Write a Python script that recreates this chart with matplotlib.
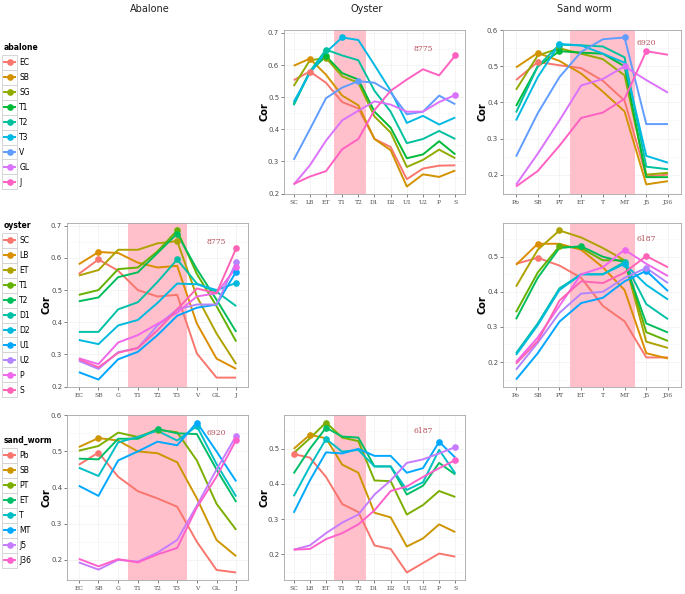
import matplotlib
matplotlib.use('Agg')
import matplotlib.pyplot as plt
from matplotlib.lines import Line2D
from matplotlib.patches import Rectangle
from matplotlib.ticker import MultipleLocator

# x-axis stages of each species
abalone_stages = ['EC', 'SB', 'G', 'T1', 'T2', 'T3', 'V', 'GL', 'J']
oyster_stages = ['SC', 'LB', 'ET', 'T1', 'T2', 'D1', 'D2', 'U1', 'U2', 'P', 'S']
worm_stages = ['Pb', 'SB', 'PT', 'ET', 'T', 'MT', 'J5', 'J36']

# legend labels (series)
abalone_labels = ['EC', 'SB', 'SG', 'T1', 'T2', 'T3', 'V', 'GL', 'J']
oyster_labels = ['SC', 'LB', 'ET', 'T1', 'T2', 'D1', 'D2', 'U1', 'U2', 'P', 'S']
worm_labels = ['Pb', 'SB', 'PT', 'ET', 'T', 'MT', 'J5', 'J36']

abalone_colors = ['#F8766D', '#D39200', '#93AA00', '#00BA38', '#00C19F',
                  '#00B9E3', '#619CFF', '#DB72FB', '#FF61C3']
oyster_colors = ['#F8766D', '#DB8E00', '#AEA200', '#64B200', '#00BD5C', '#00C1A7',
                 '#00BADE', '#00A6FF', '#B385FF', '#EF67EB', '#FF63B6']
worm_colors = ['#F8766D', '#CD9600', '#7CAE00', '#00BE67', '#00BFC4',
               '#00A9FF', '#C77CFF', '#FF61CC']

# abalone series against oyster stages
abalone_on_oyster = [
    [0.553, 0.580, 0.545, 0.485, 0.465, 0.370, 0.345, 0.245, 0.278, 0.287, 0.288],
    [0.598, 0.620, 0.570, 0.505, 0.475, 0.370, 0.335, 0.222, 0.260, 0.252, 0.272],
    [0.535, 0.615, 0.622, 0.565, 0.545, 0.440, 0.390, 0.283, 0.305, 0.337, 0.310],
    [0.478, 0.580, 0.628, 0.575, 0.555, 0.455, 0.405, 0.310, 0.322, 0.363, 0.322],
    [0.475, 0.580, 0.648, 0.630, 0.615, 0.520, 0.455, 0.357, 0.370, 0.395, 0.370],
    [0.485, 0.575, 0.640, 0.686, 0.678, 0.600, 0.520, 0.420, 0.442, 0.415, 0.437],
    [0.305, 0.400, 0.497, 0.530, 0.550, 0.545, 0.515, 0.447, 0.455, 0.505, 0.478],
    [0.228, 0.288, 0.365, 0.428, 0.458, 0.487, 0.477, 0.455, 0.455, 0.485, 0.507],
    [0.230, 0.253, 0.270, 0.338, 0.370, 0.460, 0.520, 0.555, 0.587, 0.568, 0.630],
]

# abalone series against sand worm stages
abalone_on_worm = [
    [0.462, 0.512, 0.503, 0.495, 0.460, 0.405, 0.195, 0.200],
    [0.497, 0.537, 0.515, 0.480, 0.430, 0.375, 0.173, 0.182],
    [0.435, 0.530, 0.550, 0.535, 0.520, 0.475, 0.200, 0.205],
    [0.390, 0.500, 0.542, 0.538, 0.535, 0.500, 0.193, 0.193],
    [0.372, 0.500, 0.560, 0.558, 0.555, 0.525, 0.222, 0.215],
    [0.350, 0.470, 0.562, 0.558, 0.535, 0.510, 0.252, 0.233],
    [0.250, 0.370, 0.470, 0.540, 0.575, 0.580, 0.340, 0.340],
    [0.172, 0.258, 0.350, 0.447, 0.465, 0.500, 0.462, 0.427],
    [0.167, 0.210, 0.280, 0.357, 0.372, 0.410, 0.542, 0.532],
]

# oyster series against abalone stages
oyster_on_abalone = [
    [0.550, 0.595, 0.560, 0.500, 0.480, 0.485, 0.303, 0.228, 0.228],
    [0.580, 0.618, 0.615, 0.585, 0.570, 0.575, 0.396, 0.287, 0.255],
    [0.545, 0.562, 0.625, 0.625, 0.645, 0.652, 0.480, 0.365, 0.270],
    [0.485, 0.500, 0.565, 0.570, 0.620, 0.685, 0.550, 0.450, 0.340],
    [0.465, 0.477, 0.540, 0.555, 0.615, 0.675, 0.565, 0.470, 0.370],
    [0.370, 0.370, 0.440, 0.462, 0.525, 0.595, 0.520, 0.495, 0.450],
    [0.345, 0.332, 0.390, 0.407, 0.460, 0.520, 0.518, 0.500, 0.522],
    [0.245, 0.222, 0.285, 0.308, 0.360, 0.420, 0.445, 0.455, 0.557],
    [0.280, 0.255, 0.307, 0.320, 0.390, 0.440, 0.455, 0.455, 0.587],
    [0.288, 0.270, 0.337, 0.360, 0.395, 0.430, 0.480, 0.490, 0.570],
    [0.285, 0.260, 0.305, 0.320, 0.375, 0.440, 0.505, 0.490, 0.630],
]

# oyster series against sand worm stages
oyster_on_worm = [
    [0.480, 0.497, 0.475, 0.440, 0.360, 0.316, 0.213, 0.213],
    [0.477, 0.537, 0.537, 0.520, 0.470, 0.405, 0.225, 0.210],
    [0.415, 0.520, 0.575, 0.555, 0.525, 0.490, 0.258, 0.240],
    [0.342, 0.455, 0.530, 0.525, 0.490, 0.490, 0.285, 0.260],
    [0.322, 0.440, 0.525, 0.530, 0.500, 0.485, 0.310, 0.284],
    [0.225, 0.310, 0.410, 0.450, 0.450, 0.485, 0.365, 0.322],
    [0.220, 0.305, 0.405, 0.450, 0.450, 0.480, 0.420, 0.378],
    [0.150, 0.225, 0.315, 0.368, 0.383, 0.430, 0.460, 0.402],
    [0.178, 0.255, 0.340, 0.395, 0.400, 0.440, 0.468, 0.425],
    [0.200, 0.270, 0.360, 0.450, 0.470, 0.520, 0.480, 0.445],
    [0.195, 0.260, 0.375, 0.430, 0.425, 0.455, 0.502, 0.470],
]

# sand worm series against abalone stages
worm_on_abalone = [
    [0.463, 0.497, 0.430, 0.390, 0.370, 0.347, 0.250, 0.172, 0.165],
    [0.512, 0.537, 0.530, 0.500, 0.495, 0.470, 0.370, 0.255, 0.210],
    [0.502, 0.515, 0.552, 0.540, 0.560, 0.553, 0.475, 0.355, 0.283],
    [0.480, 0.478, 0.535, 0.535, 0.562, 0.550, 0.548, 0.450, 0.360],
    [0.455, 0.432, 0.525, 0.540, 0.557, 0.530, 0.570, 0.465, 0.375],
    [0.405, 0.377, 0.475, 0.500, 0.527, 0.517, 0.580, 0.500, 0.417],
    [0.193, 0.173, 0.200, 0.195, 0.220, 0.255, 0.350, 0.450, 0.543],
    [0.203, 0.182, 0.202, 0.193, 0.215, 0.233, 0.345, 0.430, 0.532],
]

# sand worm series against oyster stages
worm_on_oyster = [
    [0.485, 0.475, 0.420, 0.343, 0.320, 0.225, 0.215, 0.148, 0.175, 0.202, 0.193],
    [0.500, 0.540, 0.530, 0.455, 0.432, 0.318, 0.305, 0.222, 0.245, 0.285, 0.263],
    [0.488, 0.530, 0.575, 0.532, 0.522, 0.410, 0.408, 0.313, 0.340, 0.380, 0.363],
    [0.430, 0.500, 0.560, 0.535, 0.532, 0.450, 0.450, 0.370, 0.395, 0.460, 0.427],
    [0.365, 0.450, 0.528, 0.492, 0.497, 0.450, 0.450, 0.383, 0.405, 0.497, 0.430],
    [0.318, 0.410, 0.490, 0.487, 0.500, 0.480, 0.480, 0.432, 0.445, 0.520, 0.475],
    [0.213, 0.225, 0.260, 0.290, 0.313, 0.370, 0.410, 0.460, 0.470, 0.487, 0.505],
    [0.213, 0.215, 0.243, 0.260, 0.285, 0.325, 0.380, 0.393, 0.420, 0.445, 0.468],
]

# shaded metamorphosis window (stage index range) per x-axis species
abalone_band = (3, 5)
oyster_band = (3, 4)
worm_band = (3, 5)

ortholog_counts = {'abalone-oyster': '8775', 'abalone-worm': '6920', 'oyster-worm': '6187'}

fig = plt.figure(figsize=(6.85, 5.94), dpi=100)

col_left = [67, 284, 503]
col_width = [181, 181, 178]
row_top = [30, 223, 415]
row_height = [164, 164, 165]
W, H = 685.0, 594.0


def panel_axes(r, c):
    return fig.add_axes([col_left[c] / W, 1 - (row_top[r] + row_height[r]) / H,
                         col_width[c] / W, row_height[r] / H])


panels = [
    (0, 1, abalone_on_oyster, abalone_colors, oyster_stages, oyster_band, ortholog_counts['abalone-oyster'], 8, 0.65),
    (0, 2, abalone_on_worm, abalone_colors, worm_stages, worm_band, ortholog_counts['abalone-worm'], 6, 0.565),
    (1, 0, oyster_on_abalone, oyster_colors, abalone_stages, abalone_band, ortholog_counts['abalone-oyster'], 7, 0.65),
    (1, 2, oyster_on_worm, oyster_colors, worm_stages, worm_band, ortholog_counts['oyster-worm'], 6, 0.55),
    (2, 0, worm_on_abalone, worm_colors, abalone_stages, abalone_band, ortholog_counts['abalone-worm'], 7, 0.55),
    (2, 1, worm_on_oyster, worm_colors, oyster_stages, oyster_band, ortholog_counts['oyster-worm'], 8, 0.55),
]

for r, c, series, colors, stages, band, note, nx, ny in panels:
    ax = panel_axes(r, c)
    xs = list(range(len(stages)))
    ax.axvspan(band[0] - 0.5, band[1] + 0.5, color='#FFC0CB', lw=0, zorder=1)
    lo = min(min(s) for s in series)
    hi = max(max(s) for s in series)
    pad = (hi - lo) * 0.05
    for vals, col in zip(series, colors):
        ax.plot(xs, vals, color=col, lw=1.4, zorder=3, solid_capstyle='butt')
        k = vals.index(max(vals))
        ax.plot(xs[k], vals[k], 'o', color=col, ms=4.8, mec='none', zorder=4)
    ax.text(nx, ny, note, family='DejaVu Serif', fontsize=5.5, color='#b5505a',
            ha='center', va='center', zorder=5)
    ax.set_xlim(-0.6, len(stages) - 0.4)
    ax.set_ylim(lo - pad, hi + pad)
    ax.set_xticks(xs)
    ax.set_xticklabels(stages, family='DejaVu Serif', fontsize=4.3, color='#4d4d4d')
    ax.yaxis.set_major_locator(MultipleLocator(0.1))
    ax.yaxis.set_minor_locator(MultipleLocator(0.05))
    ax.tick_params(axis='y', labelsize=5, colors='#4d4d4d', length=2, width=0.5, pad=1.5)
    ax.tick_params(axis='x', length=2, width=0.5, pad=2, colors='#4d4d4d')
    ax.tick_params(which='minor', length=0)
    ax.grid(True, which='major', color='#f0f0f0', lw=0.5, zorder=0)
    ax.grid(True, which='minor', axis='y', color='#f5f5f5', lw=0.4, zorder=0)
    ax.set_axisbelow(True)
    for sp in ax.spines.values():
        sp.set_color('#a6a6a6')
        sp.set_linewidth(0.6)
    ax.set_ylabel('Cor', fontsize=7, fontweight='bold')
    ax.yaxis.set_label_coords(-15 / col_width[c], 0.5)

# column titles
for c, title in enumerate(['Abalone', 'Oyster', 'Sand worm']):
    fig.text((col_left[c] + col_width[c] / 2 - 8) / W, 1 - 9 / H, title,
             fontsize=7, ha='center', va='center', color='#222222')

# legends, one per row
legend_specs = [
    ('abalone', abalone_labels, abalone_colors, 43),
    ('oyster', oyster_labels, oyster_colors, 221),
    ('sand_worm', worm_labels, worm_colors, 436),
]
legends = []
for title, labels, colors, top in legend_specs:
    handles = [Line2D([], [], color=col, lw=1.4, marker='o', ms=4.8, mec='none')
               for col in colors]
    leg = fig.legend(handles, labels, title=title, loc='upper left',
                     bbox_to_anchor=(4 / W, 1 - top / H), frameon=False,
                     fontsize=5.5, handlelength=1.45, labelspacing=0.78,
                     handletextpad=0.55, borderaxespad=0, borderpad=0,
                     alignment='left',
                     title_fontproperties={'weight': 'bold', 'size': 5.5})
    legends.append(leg)

# grey key boxes like ggplot legend keys
fig.canvas.draw()
renderer = fig.canvas.get_renderer()
for leg in legends:
    for h in leg.legend_handles:
        bb = h.get_window_extent(renderer)
        cx = (bb.x0 + bb.x1) / 2
        cy = (bb.y0 + bb.y1) / 2
        box = Rectangle(((cx - 7.5) / W, (cy - 7.5) / H), 15 / W, 15 / H,
                        transform=fig.transFigure, facecolor='white',
                        edgecolor='#d0d0d0', lw=0.6, zorder=-1)
        fig.add_artist(box)

fig.savefig('out.png', dpi=100)
